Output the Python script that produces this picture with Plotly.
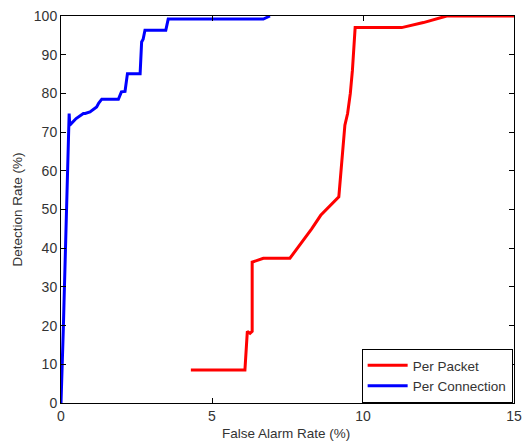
import plotly.graph_objects as go

# Per Packet ROC points (False alarm %, detection %)
packet_far = [4.30, 6.09, 6.17, 6.26, 6.33, 6.33, 6.70, 7.58, 8.30, 8.60, 9.20, 9.30, 9.40, 9.49, 9.58, 9.65, 9.74, 11.28, 12.00, 12.77, 15.00]
packet_dr = [8.5, 8.5, 18.5, 18.0, 18.5, 36.4, 37.4, 37.4, 45.0, 48.5, 53.3, 62.0, 71.8, 74.8, 80.0, 86.0, 97.0, 97.0, 98.3, 100.0, 100.0]

# Per Connection ROC points
conn_far = [0.00, 0.02, 0.05, 0.08, 0.10, 0.13, 0.16, 0.19, 0.21, 0.22, 0.25, 0.26, 0.27, 0.27, 0.29, 0.50, 0.74, 0.80, 0.96, 1.05, 1.18, 1.25, 1.35, 1.90, 1.95, 2.00, 2.12, 2.15, 2.20, 2.62, 2.64, 2.67, 2.72, 2.78, 3.47, 3.50, 3.55, 6.70, 6.92]
conn_dr = [0.0, 4.0, 11.0, 20.0, 26.0, 34.0, 41.0, 49.0, 56.0, 60.0, 64.0, 70.0, 71.8, 74.8, 71.8, 73.5, 74.8, 74.8, 75.2, 75.8, 76.5, 77.5, 78.5, 78.5, 79.5, 80.4, 80.5, 83.0, 85.1, 85.1, 89.0, 93.3, 94.0, 96.3, 96.3, 97.5, 99.2, 99.2, 100.0]

x_ticks = [0, 5, 10, 15]
y_ticks = [0, 10, 20, 30, 40, 50, 60, 70, 80, 90, 100]

FONT = "Liberation Sans, Arial"
TXT = "#333333"

fig = go.Figure()
fig.add_trace(go.Scatter(x=packet_far, y=packet_dr, mode="lines", name="Per Packet",
                         line=dict(color="#FF0000", width=3)))
fig.add_trace(go.Scatter(x=conn_far, y=conn_dr, mode="lines", name="Per Connection",
                         line=dict(color="#0000FF", width=3)))

axis_common = dict(showgrid=False, zeroline=False, showline=True, linecolor="black", linewidth=1,
                   mirror="ticks", ticks="inside", ticklen=5, tickcolor="black", automargin=False,
                   tickfont=dict(family=FONT, size=14, color=TXT))

fig.update_xaxes(range=[0, 15], tickvals=x_ticks, **axis_common)
fig.update_yaxes(range=[0, 100], tickvals=y_ticks, **axis_common)

fig.add_annotation(text="False Alarm Rate (%)", xref="paper", yref="paper",
                   x=0.496, y=-0.08, xanchor="center", yanchor="middle", showarrow=False,
                   font=dict(family=FONT, size=13.5, color=TXT))
fig.add_annotation(text="Detection Rate (%)", xref="paper", yref="paper",
                   x=-0.095, y=0.5, xanchor="center", yanchor="middle", showarrow=False,
                   textangle=-90, font=dict(family=FONT, size=13.5, color=TXT))

fig.update_layout(
    width=530, height=447,
    margin=dict(l=61, r=16, t=16, b=44),
    plot_bgcolor="white", paper_bgcolor="white",
    legend=dict(x=0.997, y=0.0, xanchor="right", yanchor="bottom",
                bordercolor="black", borderwidth=1, bgcolor="white",
                font=dict(family=FONT, size=13.5, color=TXT),
                tracegroupgap=0, itemwidth=40),
)

fig.write_html("out.html")
